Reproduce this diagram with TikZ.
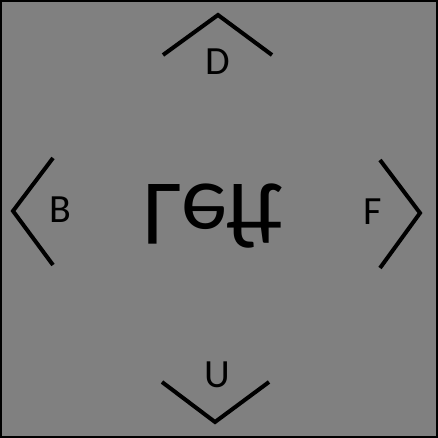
\documentclass[tikz,border=0pt]{standalone}
\usepackage{fontspec}
\setmainfont{Carlito}
\usetikzlibrary{positioning}
\usetikzlibrary{calc}

\begin{document}
\begin{tikzpicture}[x=1pt, y=1pt, every node/.style={inner sep=0pt, font=\fontsize{40}{40}\selectfont}]

        \def\lw{4pt} % width of the chevron strokes

        \useasboundingbox (0,0) rectangle (438,438);
        \fill[gray] (0,0) rectangle (438,438);
        \draw[line width=2pt] (1,1) rectangle (437,437);

        % face label, mirrored top to bottom
        \node[yscale=-1, anchor=base, font=\fontsize{93}{93}\selectfont] (face) at (213, 253) {Left};

        % neighbour labels
        \node (d) at (218, 376) {D};
        \node (b) at (60, 228) {B};
        \node (f) at (373, 226) {F};
        \node (u) at (217, 63) {U};

        % chevron end points
        \coordinate (t1) at (163, 383);
        \coordinate (t2) at (218, 423);
        \coordinate (t3) at (272, 383);

        \coordinate (l1) at (53, 280);
        \coordinate (l2) at (13, 227);
        \coordinate (l3) at (53, 173);

        \coordinate (r1) at (380, 278);
        \coordinate (r2) at (420, 225);
        \coordinate (r3) at (380, 170);

        \coordinate (b1) at (162, 56);
        \coordinate (b2) at (215, 16);
        \coordinate (b3) at (269, 56);

        \draw[line width=\lw] (t1) -- (t2) -- (t3);
        \draw[line width=\lw] (l1) -- (l2) -- (l3);
        \draw[line width=\lw] (r1) -- (r2) -- (r3);
        \draw[line width=\lw] (b1) -- (b2) -- (b3);

\end{tikzpicture}
\end{document}
